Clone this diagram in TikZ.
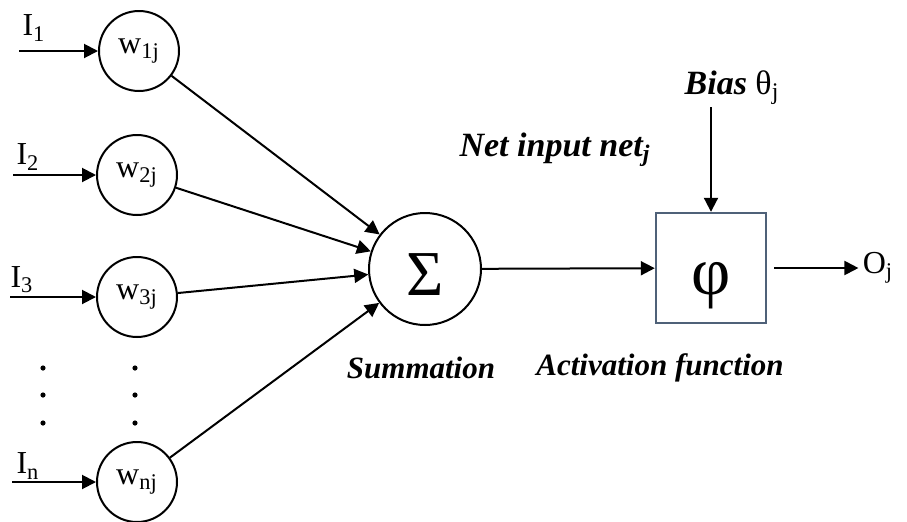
\documentclass[tikz,border=0pt]{standalone}
\usepackage{fontspec}
\setmainfont{Liberation Serif}
\usepackage{tikz}
\usetikzlibrary{positioning,arrows.meta}
\definecolor{ink}{HTML}{000000}
\definecolor{slate}{HTML}{4F6178}
\tikzset{
  weight/.style={circle,draw=ink,line width=1pt,minimum size=40pt,inner sep=0pt,font=\fontsize{16}{19}\selectfont},
  sumnode/.style={circle,draw=ink,line width=1pt,minimum size=56pt,inner sep=0pt,text height=26pt,text depth=0pt,font=\fontsize{32}{36}\selectfont},
  actbox/.style={draw=slate,line width=1.2pt,minimum size=55pt,inner sep=0pt,text height=26pt,text depth=0pt,font=\fontsize{34}{38}\selectfont},
  inlbl/.style={inner sep=0pt,font=\fontsize{16}{19}\selectfont},
  lbl/.style={inner sep=1pt,font=\fontsize{15.5}{19}\selectfont\bfseries\itshape},
  flow/.style={-{Triangle[length=7pt,width=7pt]},draw=ink,line width=1pt}}

\begin{document}
\begin{tikzpicture}[x=0.5pt,y=-0.5pt]
\useasboundingbox (0,0) rectangle (907,521);
% weights
\node[weight] (w1) at (139,51) {w\textsubscript{1j}};
\node[weight] (w2) at (137,175) {w\textsubscript{2j}};
\node[weight] (w3) at (137,297) {w\textsubscript{3j}};
\node[weight] (wn) at (137,482) {w\textsubscript{nj}};
% inputs
\coordinate (in1) at (19,51);
\coordinate (in2) at (13,175);
\coordinate (in3) at (10,297);
\coordinate (inn) at (12,482);
\node[inlbl] at (34,28) {I\textsubscript{1}};
\node[inlbl] at (28,157) {I\textsubscript{2}};
\node[inlbl] at (22,280) {I\textsubscript{3}};
\node[inlbl] at (28,466) {I\textsubscript{n}};
\foreach \i/\w in {in1/w1,in2/w2,in3/w3,inn/wn}
  \draw[flow] (\i) -- (\w);
% vertical dots
\foreach \x in {43,135}
  \foreach \y in {368,395,423}
    \fill (\x,\y) circle (2.6);
% summation and activation
\node[sumnode] (sum) at (425,269) {Σ};
\node[actbox] (act) at (711,268) {φ};
\foreach \w in {w1,w2,w3,wn}
  \draw[flow] (\w) -- (sum);
\draw[flow] (sum) -- (act);
\node[lbl,font=\fontsize{17}{20}\selectfont\bfseries\itshape] (net) at (555,150) {Net input net\textsubscript{j}};
\node[lbl] at (421,368) {Summation};
\node[lbl] at (660,368) {Activation function};
\node[lbl,font=\fontsize{17}{20}\selectfont\bfseries\itshape] (bias) at (732,88) {Bias \normalfont θ\textsubscript{j}};
\draw[flow] (act.north |- bias.south) -- (act);
\node[inlbl] (out) at (878,268) {O\textsubscript{j}};
\draw[flow,shorten <=3.5pt,shorten >=2pt] (act) -- (out);
\end{tikzpicture}
\end{document}
